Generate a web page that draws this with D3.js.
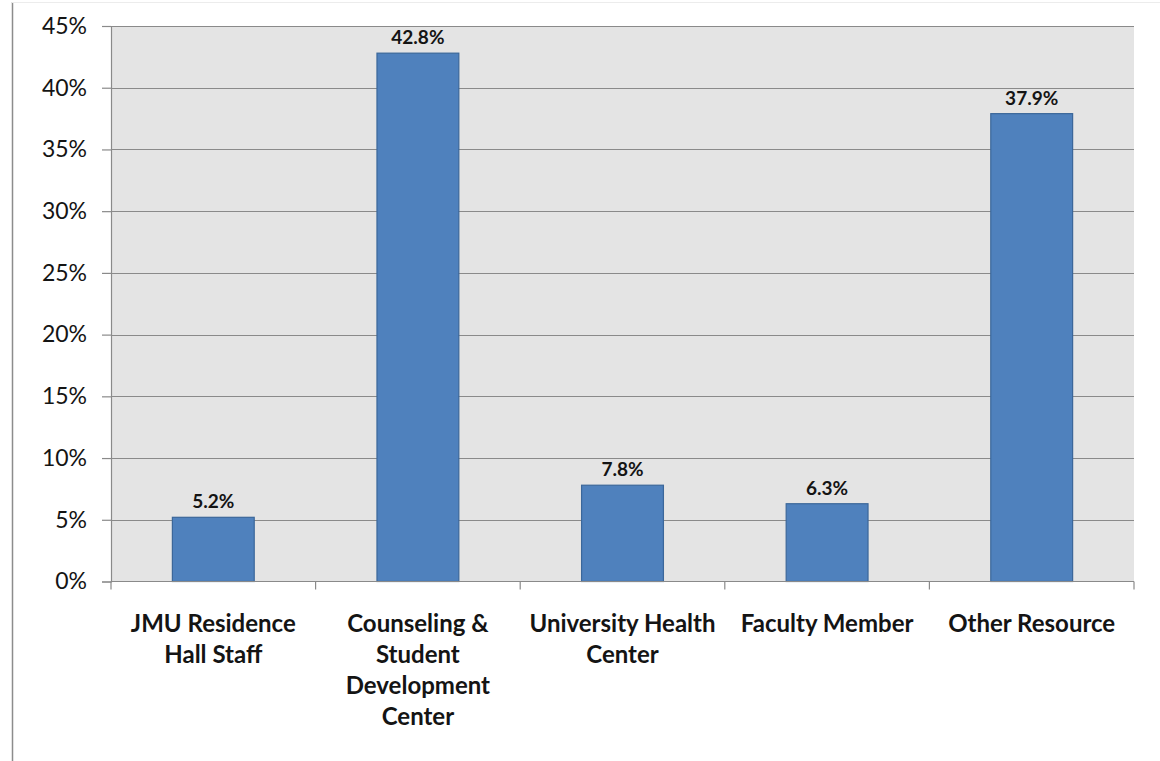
<!DOCTYPE html>
<html>
<head>
<meta charset="utf-8">
<script src="https://cdn.jsdelivr.net/npm/d3@7"></script>
<style>
  html, body { margin: 0; padding: 0; background: #fff; }
  svg { display: block; }
  text { font-family: Lato, "Open Sans", sans-serif; fill: #141414; }
</style>
</head>
<body>
<svg id="chart" width="1160" height="761"></svg>
<script>
// Share of students who turned to each campus resource (%)
const categories = [
  ["JMU Residence", "Hall Staff"],
  ["Counseling &", "Student", "Development", "Center"],
  ["University Health", "Center"],
  ["Faculty Member"],
  ["Other Resource"]
];
const values = [5.2, 42.8, 7.8, 6.3, 37.9];
const yTicks = [0, 5, 10, 15, 20, 25, 30, 35, 40, 45];

const svg = d3.select("#chart");
const W = 1160, H = 761;
const plot = { left: 111, right: 1134, top: 26, bottom: 581.5 };

// outer chart frame (left and top edges visible)
svg.append("line").attr("x1", 12.5).attr("x2", 12.5).attr("y1", 2).attr("y2", H)
  .attr("stroke", "#8c8c8c").attr("stroke-width", 1.5);
svg.append("line").attr("x1", 12).attr("x2", W).attr("y1", 2.5).attr("y2", 2.5)
  .attr("stroke", "#ececec").attr("stroke-width", 1);

const keys = categories.map((c, i) => i);
const x = d3.scaleBand().domain(keys).range([plot.left, plot.right])
  .paddingInner(0.6).paddingOuter(0.3);
const xEdge = d3.scaleLinear().domain([0, categories.length]).range([plot.left, plot.right]);
const y = d3.scaleLinear().domain([0, 45]).range([plot.bottom, plot.top]);

// plot background
svg.append("rect")
  .attr("x", plot.left).attr("y", plot.top)
  .attr("width", plot.right - plot.left).attr("height", plot.bottom - plot.top)
  .attr("fill", "#e4e4e4");

// horizontal gridlines
svg.append("g").selectAll("line").data(yTicks.filter(t => t > 0)).join("line")
  .attr("x1", plot.left).attr("x2", plot.right)
  .attr("y1", d => Math.round(y(d)) + 0.5).attr("y2", d => Math.round(y(d)) + 0.5)
  .attr("stroke", "#8a8a8a").attr("stroke-width", 1.2);

// y axis
const yAxis = d3.axisLeft(y).tickValues(yTicks).tickFormat(d => d + "%")
  .tickSize(9).tickPadding(15);
const gy = svg.append("g").attr("transform", `translate(${plot.left},0)`).call(yAxis);
gy.select(".domain").attr("stroke", "#8a8a8a").attr("stroke-width", 1.2);
gy.selectAll(".tick line").attr("stroke", "#8a8a8a").attr("stroke-width", 1.2);
gy.selectAll(".tick text")
  .style("font-family", "Lato, sans-serif").style("font-size", "23px")
  .attr("fill", "#141414");

// bars
svg.append("g").selectAll("rect").data(values).join("rect")
  .attr("x", (d, i) => x(i))
  .attr("y", d => y(d))
  .attr("width", x.bandwidth())
  .attr("height", d => y(0) - y(d))
  .attr("fill", "#4f81bd")
  .attr("stroke", "#3b679a").attr("stroke-width", 1.2);

// value labels
svg.append("g").selectAll("text").data(values).join("text")
  .attr("x", (d, i) => x(i) + x.bandwidth() / 2)
  .attr("y", d => y(d) - 9)
  .attr("text-anchor", "middle")
  .style("font-size", "19px").style("font-weight", "700")
  .text(d => d.toFixed(1) + "%");

// x axis line and category boundary ticks
svg.append("line")
  .attr("x1", plot.left).attr("x2", plot.right)
  .attr("y1", plot.bottom).attr("y2", plot.bottom)
  .attr("stroke", "#8a8a8a").attr("stroke-width", 1.2);
svg.append("g").selectAll("line").data(d3.range(categories.length + 1)).join("line")
  .attr("x1", d => xEdge(d)).attr("x2", d => xEdge(d))
  .attr("y1", plot.bottom).attr("y2", plot.bottom + 8)
  .attr("stroke", "#8a8a8a").attr("stroke-width", 1.2);

// category labels
const lbl = svg.append("g").selectAll("text").data(categories).join("text")
  .attr("x", (d, i) => x(i) + x.bandwidth() / 2)
  .attr("y", 632)
  .attr("text-anchor", "middle")
  .style("font-size", "24px").style("font-weight", "700");
lbl.selectAll("tspan").data(d => d).join("tspan")
  .attr("x", function () { return this.parentNode.getAttribute("x"); })
  .attr("dy", (d, i) => i === 0 ? 0 : 31)
  .text(d => d);
</script>
</body>
</html>
